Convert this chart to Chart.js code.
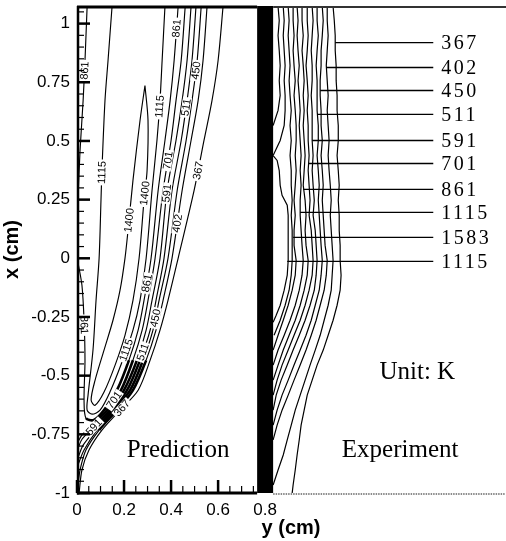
<!DOCTYPE html>
<html><head><meta charset="utf-8">
<script src="https://cdn.jsdelivr.net/npm/chart.js@4"></script>
<style>html,body{margin:0;padding:0;background:#fff}</style>
</head><body>
<canvas id="c" width="506" height="541" style="width:506px;height:541px;display:block"></canvas>
<script>
// ---------- axis ticks ----------
const xTicks = [0, 0.2, 0.4, 0.6, 0.8];
const yTicks = [1, 0.75, 0.5, 0.25, 0, -0.25, -0.5, -0.75, -1];

// ---------- prediction contours (x = y(cm), y = x(cm)) ----------
const p367 = [[0.621,1.072],[0.600,0.843],[0.574,0.672],[0.540,0.502],[0.498,0.289],[0.430,0],[0.387,-0.179],[0.353,-0.306],[0.311,-0.434],[0.260,-0.562],[0.183,-0.647],[0.106,-0.732],[0.051,-0.817],[0.021,-0.902],[0.009,-1.0]];
const p402 = [[0.553,1.072],[0.536,0.843],[0.515,0.672],[0.485,0.502],[0.447,0.289],[0.404,0],[0.366,-0.179],[0.336,-0.306],[0.294,-0.434],[0.238,-0.562],[0.170,-0.647],[0.094,-0.732],[0.038,-0.817],[0.013,-0.902],[0.004,-0.966]];
const p450 = [[0.528,1.072],[0.511,0.843],[0.489,0.672],[0.464,0.502],[0.426,0.289],[0.387,0],[0.349,-0.179],[0.323,-0.306],[0.281,-0.434],[0.226,-0.562],[0.157,-0.647],[0.085,-0.732],[0.030,-0.817],[0.004,-0.881]];
const p511 = [[0.506,1.072],[0.489,0.843],[0.468,0.672],[0.443,0.502],[0.404,0.289],[0.370,0],[0.336,-0.179],[0.311,-0.306],[0.268,-0.434],[0.213,-0.562],[0.149,-0.647],[0.077,-0.732],[0.026,-0.796],[0.004,-0.851]];
const p591 = [[0.485,1.072],[0.468,0.843],[0.447,0.672],[0.421,0.502],[0.383,0.289],[0.353,0],[0.319,-0.179],[0.294,-0.306],[0.255,-0.434],[0.200,-0.562],[0.140,-0.647],[0.068,-0.723],[0.022,-0.770],[0.004,-0.810]];
const p701 = [[0.460,1.072],[0.443,0.843],[0.421,0.672],[0.400,0.502],[0.366,0.289],[0.332,0],[0.302,-0.179],[0.277,-0.306],[0.238,-0.434],[0.187,-0.562],[0.128,-0.647],[0.064,-0.711],[0.021,-0.753],[0.004,-0.783]];
const p861 = [[0.430,1.072],[0.413,0.843],[0.396,0.672],[0.374,0.502],[0.345,0.289],[0.315,0],[0.285,-0.179],[0.260,-0.306],[0.221,-0.434],[0.170,-0.562],[0.115,-0.647],[0.072,-0.689],[0.038,-0.681],[0.030,-0.604],[0.034,-0.434],[0.030,-0.264],[0.021,-0.115],[0.004,-0.017]];
const p861wall = [[0.043,1.072],[0.034,0.843],[0.026,0.672],[0.013,0.460],[0.004,0.247]];
const p1115 = [[0.374,1.072],[0.362,0.843],[0.353,0.672],[0.340,0.502],[0.319,0.289],[0.294,0],[0.268,-0.179],[0.238,-0.306],[0.191,-0.443],[0.140,-0.570],[0.098,-0.647],[0.064,-0.664],[0.043,-0.647],[0.047,-0.583],[0.068,-0.391],[0.081,-0.179],[0.094,0],[0.102,0.247],[0.106,0.374],[0.119,0.672],[0.132,0.843],[0.149,1.072]];
const p1400 = [[0.289,0.736],[0.302,0.587],[0.298,0.374],[0.285,0.247],[0.264,0],[0.238,-0.179],[0.204,-0.328],[0.162,-0.455],[0.115,-0.570],[0.077,-0.626],[0.060,-0.604],[0.077,-0.519],[0.115,-0.391],[0.153,-0.264],[0.183,-0.136],[0.204,0],[0.217,0.119],[0.238,0.332],[0.268,0.587],[0.289,0.736]];

// contour labels: [contour, x(cm) level, crossing index, text]
const predLabels = [
  ['p861wall',0.80,0,'861'],['p1115',0.366,1,'1115'],['p1115',0.647,0,'1115'],['p861',0.98,0,'861'],
  ['p450',0.80,0,'450'],['p511',0.643,0,'511'],['p701',0.417,0,'701'],['p367',0.374,0,'367'],
  ['p1400',0.162,1,'1400'],['p1400',0.277,0,'1400'],['p591',0.277,0,'591'],['p402',0.149,0,'402'],
  ['p861',-0.106,0,'861'],['p450',-0.255,0,'450'],['p861',-0.285,1,'861'],['p1115',-0.391,0,'1115'],
  ['p511',-0.40,0,'511'],['p701',-0.604,0,'701'],['p367',-0.638,0,'367'],['p591',-0.719,0,'591']
];

// ---------- experiment contours ----------
const expY = [1.072,1.013,0.949,0.885,0.821,0.757,0.694,0.630,0.566,0.502,0.438,0.374,0.311,0.247,0.183,0.119,0.055,-0.009,-0.072,-0.136,-0.200,-0.264,-0.328,-0.391,-0.455,-0.519,-0.583,-0.647,-0.711,-0.774,-0.838,-0.902,-0.966,-1.0];
const e1 = [1.089,1.094,1.098,1.098,1.102,1.102,1.106,1.106,1.111,1.111,1.106,1.111,1.115,1.111,1.115,1.115,1.119,1.119,1.123,1.119,1.106,1.089,1.068,1.047,1.021,1.000,0.979,0.966,0.953,0.945,0.936,0.928,0.919,0.915];
const e2 = [1.064,1.064,1.068,1.064,1.060,1.064,1.068,1.064,1.068,1.072,1.068,1.072,1.077,1.081,1.077,1.081,1.085,1.089,1.085,1.081,1.068,1.051,1.034,1.013,0.991,0.970,0.949,0.928,0.911,0.894,0.877,0.855,0.834];
const e3 = [1.043,1.047,1.043,1.038,1.038,1.034,1.034,1.038,1.038,1.043,1.038,1.043,1.047,1.043,1.047,1.051,1.055,1.064,1.060,1.051,1.034,1.017,0.996,0.974,0.949,0.923,0.898,0.872,0.851,0.834];
const e4 = [1.021,1.021,1.026,1.021,1.017,1.021,1.021,1.021,1.026,1.026,1.021,1.026,1.030,1.026,1.030,1.034,1.038,1.043,1.038,1.030,1.013,0.996,0.974,0.949,0.923,0.898,0.872,0.851,0.834];
const e5 = [1.000,1.004,1.000,0.996,1.000,1.000,0.996,1.000,1.000,1.000,1.004,1.000,1.004,1.009,1.004,1.013,1.017,1.021,1.017,1.009,0.991,0.970,0.945,0.919,0.894,0.868,0.847,0.834];
const e6 = [0.979,0.979,0.983,0.979,0.974,0.979,0.983,0.979,0.983,0.983,0.987,0.983,0.987,0.991,0.987,0.996,1.000,1.004,1.000,0.987,0.970,0.949,0.923,0.898,0.872,0.851,0.834];
const e7 = [0.957,0.957,0.962,0.957,0.962,0.966,0.962,0.966,0.962,0.966,0.970,0.966,0.962,0.970,0.974,0.970,0.974,0.983,0.979,0.966,0.949,0.928,0.902,0.877,0.855,0.834];
const e8 = [0.936,0.940,0.936,0.940,0.945,0.940,0.945,0.949,0.945,0.949,0.953,0.949,0.953,0.949,0.949,0.953,0.957,0.962,0.957,0.945,0.928,0.906,0.881,0.855,0.834];
const e9 = [0.919,0.919,0.923,0.919,0.923,0.928,0.923,0.928,0.932,0.932,0.928,0.932,0.928,0.923,0.928,0.923,0.923,0.932,0.928,0.915,0.898,0.877,0.855,0.834];
const e11 = [0.898,0.902,0.898,0.902,0.906,0.902,0.906,0.911,0.906,0.911,0.906,0.911,0.911,0.915,0.911,0.915,0.915,0.915,0.911,0.902,0.885,0.864,0.838];
const e12 = [0.877,0.881,0.877,0.881,0.885,0.881,0.885,0.885,0.881,0.864,0.834];
const e13 = [0.855,0.860,0.855,0.860,0.864,0.860,0.864,0.855,0.834];
const e10 = [[0.834,0.438],[0.851,0.417],[0.860,0.374],[0.864,0.311],[0.872,0.268],[0.894,0.226],[0.898,0.183],[0.898,0.119],[0.898,0.055],[0.898,-0.009],[0.894,-0.072],[0.881,-0.136],[0.864,-0.200],[0.847,-0.243],[0.834,-0.272]];

// labels of the experiment with leader lines
const expLabels = ['367','402','450','511','591','701','861','1115','1583','1115'];
const leaderY = [0.919,0.813,0.715,0.613,0.502,0.404,0.294,0.196,0.089,-0.013];
const leaderFrom = [1.098,1.060,1.034,1.021,1.000,0.983,0.962,0.949,0.919,0.894];
const leaderTo = 1.515;
const wallX = 0.8;

// ---------- build datasets ----------
const contours = {p367,p402,p450,p511,p591,p701,p861,p861wall,p1115,p1400};
const denseSet = ['p402','p450','p511','p591','p701','p861'];
const datasets = [];
function inDense(y){ return (y<=-0.40 && y>=-0.60) || (y<=-0.64 && y>=-0.74); }
function addLine(pts, w, tension, dense){
  const d = {data:pts.map(p=>({x:p[0],y:p[1]})),borderColor:'#000',borderWidth:w,pointRadius:0,showLine:true,tension:tension,fill:false};
  if(dense) d.segment = {borderWidth: c => (inDense(c.p0.parsed.y) && inDense(c.p1.parsed.y) && c.p0.parsed.x>0.05) ? 2.6 : w};
  datasets.push(d);
}
Object.entries(contours).forEach(([k,c])=>addLine(c,1.15,0.3,denseSet.includes(k)));
[e1,e2,e3,e4,e5,e6,e7,e8,e9,e11,e12,e13].forEach(arr=>addLine(arr.map((v,i)=>[v,expY[i]]),1.2,0,false));
addLine(e10,1.2,0,false);
leaderY.forEach((y,i)=>addLine([[leaderFrom[i],y],[leaderTo,y]],1.3,0,false));
datasets.push({data:[{x:wallX,y:-1.0},{x:wallX,y:1.075}],borderColor:'#000',borderWidth:16,borderCapStyle:'butt',pointRadius:0,showLine:true,fill:false});

const overlay = {
  id:'overlay',
  afterDatasetsDraw(chart){
    const ctx = chart.ctx, xs = chart.scales.x, ys = chart.scales.y, a = chart.chartArea;
    const X = v=>xs.getPixelForValue(v), Y = v=>ys.getPixelForValue(v);
    ctx.save();
    // contour labels
    ctx.font = '11px "Liberation Sans", Arial, sans-serif';
    ctx.textAlign='center'; ctx.textBaseline='middle';
    predLabels.forEach(([name,yv,idx,txt])=>{
      const c = contours[name]; let k=0;
      for(let i=0;i<c.length-1;i++){
        const [x0,y0]=c[i],[x1,y1]=c[i+1];
        if((y0-yv)*(y1-yv)<=0 && y0!==y1){
          if(k===idx){
            const t=(yv-y0)/(y1-y0);
            const xv=x0+t*(x1-x0);
            const px=X(xv), py=Y(yv);
            let ang=Math.atan2(Y(y1)-Y(y0),X(x1)-X(x0));
            while(ang>=Math.PI/2) ang-=Math.PI;
            while(ang<-Math.PI/2) ang+=Math.PI;
            ctx.save(); ctx.translate(px,py); ctx.rotate(ang);
            const w=ctx.measureText(txt).width;
            ctx.fillStyle='#fff'; ctx.fillRect(-w/2-1.5,-4.5,w+3,9);
            ctx.fillStyle='#000'; ctx.fillText(txt,0,0.5);
            ctx.restore();
            break;
          }
          k++;
        }
      }
    });
    // experiment labels
    ctx.font = '20px "Liberation Serif", "Times New Roman", serif';
    if('letterSpacing' in ctx) ctx.letterSpacing='2.5px';
    ctx.textAlign='left'; ctx.textBaseline='middle'; ctx.fillStyle='#000';
    expLabels.forEach((t,i)=>ctx.fillText(t, X(leaderTo)+8, Y(leaderY[i])+1));
    if('letterSpacing' in ctx) ctx.letterSpacing='0px';
    // panel titles
    ctx.font = '25px "Liberation Serif", "Times New Roman", serif';
    ctx.textAlign='center';
    ctx.fillText('Prediction', X(0.43), Y(-0.817));
    ctx.fillText('Experiment', X(1.374), Y(-0.817));
    ctx.fillText('Unit: K', X(1.447), Y(-0.485));
    // frame
    ctx.strokeStyle='#000'; ctx.lineCap='butt';
    const wl = X(wallX)-8, wr = X(wallX)+8;
    ctx.lineWidth=3;
    ctx.beginPath(); ctx.moveTo(a.left,a.top+1); ctx.lineTo(wl,a.top+1); ctx.stroke();
    ctx.beginPath(); ctx.moveTo(a.left,a.bottom); ctx.lineTo(wl,a.bottom); ctx.stroke();
    ctx.lineWidth=2.5;
    ctx.beginPath(); ctx.moveTo(a.left+1,a.top); ctx.lineTo(a.left+1,a.bottom+1.5); ctx.stroke();
    ctx.lineWidth=2; ctx.strokeStyle='#333';
    ctx.beginPath(); ctx.moveTo(wr,a.top+1); ctx.lineTo(a.right+1,a.top+1); ctx.stroke();
    ctx.lineWidth=1.5; ctx.strokeStyle='#666'; ctx.setLineDash([1.5,1]);
    ctx.beginPath(); ctx.moveTo(wr,a.bottom+1); ctx.lineTo(a.right,a.bottom+1); ctx.stroke();
    ctx.setLineDash([]);
    // inward ticks
    ctx.strokeStyle='#000';
    for(let v=-1; v<=1.051; v+=0.05){
      const vv=Math.round(v*100)/100;
      const major = yTicks.some(t=>Math.abs(t-vv)<1e-6);
      ctx.lineWidth = major?2.5:1.2;
      ctx.beginPath(); ctx.moveTo(a.left, Y(vv)); ctx.lineTo(a.left+(major?13:7), Y(vv)); ctx.stroke();
    }
    for(let v=0; v<=0.751; v+=0.05){
      const vv=Math.round(v*100)/100;
      const major = xTicks.some(t=>Math.abs(t-vv)<1e-6);
      ctx.lineWidth = major?2.5:1.2;
      ctx.beginPath(); ctx.moveTo(X(vv), a.bottom); ctx.lineTo(X(vv), a.bottom-(major?13:7)); ctx.stroke();
    }
    ctx.restore();
  }
};

new Chart(document.getElementById('c'), {
  type:'scatter',
  data:{datasets},
  options:{
    responsive:false, animation:false, devicePixelRatio:1,
    layout:{padding:{top:6,right:1,left:0,bottom:0}},
    plugins:{legend:{display:false},tooltip:{enabled:false}},
    scales:{
      x:{type:'linear',min:0,max:1.82,
        grid:{display:false,drawTicks:false},border:{display:false},
        afterBuildTicks:s=>{s.ticks=xTicks.map(v=>({value:v}));},
        afterFit:s=>{s.height=48; s.paddingLeft=0; s.paddingRight=0;},
        ticks:{color:'#000',padding:7,maxRotation:0,autoSkip:false,font:{family:'"Liberation Sans", Arial, sans-serif',size:17},callback:v=>String(v)},
        title:{display:true,text:'y (cm)',color:'#000',padding:{top:0,bottom:1},font:{family:'"Liberation Sans", Arial, sans-serif',size:20,weight:'bold'}}
      },
      y:{type:'linear',min:-1,max:1.075,
        grid:{display:false,drawTicks:false},border:{display:false},
        afterBuildTicks:s=>{s.ticks=yTicks.map(v=>({value:v}));},
        afterFit:s=>{s.width=77; s.paddingTop=0; s.paddingBottom=0;},
        ticks:{color:'#000',padding:7,autoSkip:false,font:{family:'"Liberation Sans", Arial, sans-serif',size:17},callback:v=>String(v)},
        title:{display:true,text:'x (cm)',color:'#000',padding:{top:0,bottom:5},font:{family:'"Liberation Sans", Arial, sans-serif',size:20,weight:'bold'}}
      }
    }
  },
  plugins:[overlay]
});
</script>
</body></html>
